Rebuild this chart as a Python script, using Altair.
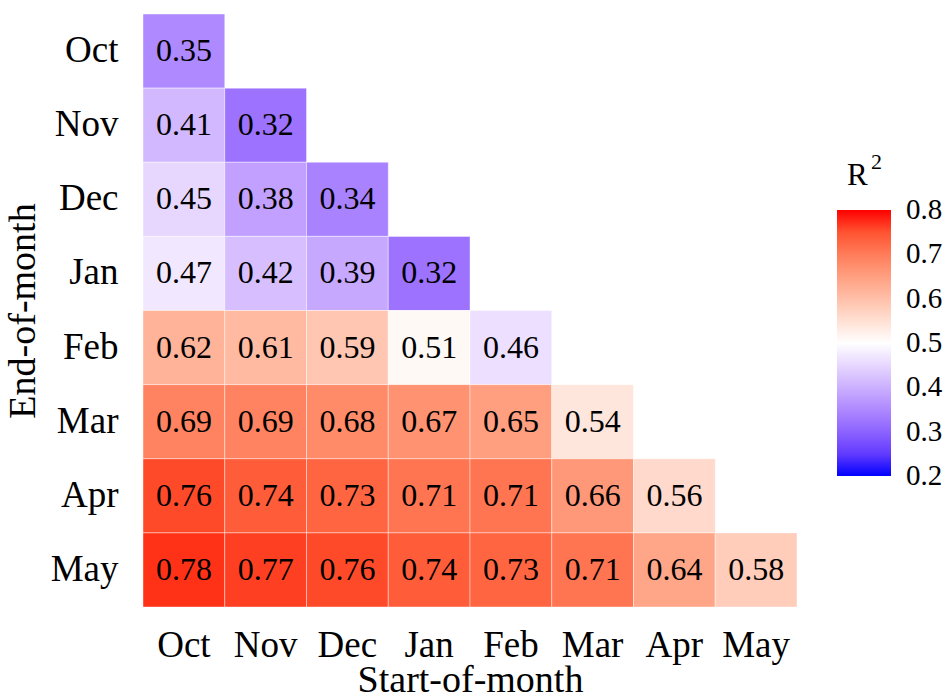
import altair as alt
import pandas as pd

months = ["Oct", "Nov", "Dec", "Jan", "Feb", "Mar", "Apr", "May"]

# R² for each end-of-month row, one value per start month (Oct onwards)
r2_oct = [0.35]
r2_nov = [0.41, 0.32]
r2_dec = [0.45, 0.38, 0.34]
r2_jan = [0.47, 0.42, 0.39, 0.32]
r2_feb = [0.62, 0.61, 0.59, 0.51, 0.46]
r2_mar = [0.69, 0.69, 0.68, 0.67, 0.65, 0.54]
r2_apr = [0.76, 0.74, 0.73, 0.71, 0.71, 0.66, 0.56]
r2_may = [0.78, 0.77, 0.76, 0.74, 0.73, 0.71, 0.64, 0.58]

legend_values = [0.2, 0.3, 0.4, 0.5, 0.6, 0.7, 0.8]

rows = [r2_oct, r2_nov, r2_dec, r2_jan, r2_feb, r2_mar, r2_apr, r2_may]
records = []
for end, vals in zip(months, rows):
    for start, v in zip(months, vals):
        records.append({"start": start, "end": end, "r2": v, "label": f"{v:.2f}"})
df = pd.DataFrame(records)

FONT = "Liberation Serif"

# colour domain padded by a hair so the 0.2 / 0.8 legend labels stay centred on their ticks
color_scale = alt.Scale(domain=[0.1999, 0.5, 0.8001],
                        range=["#0000ff", "#ffffff", "#ff0000"],
                        interpolate="lab")

base = alt.Chart(df)

tiles = base.mark_rect(stroke="white", strokeWidth=0.6, strokeOpacity=0.7).encode(
    x=alt.X("start:N", sort=months, title="Start-of-month",
            scale=alt.Scale(paddingInner=0, paddingOuter=0),
            axis=alt.Axis(labelAngle=0, domain=False, ticks=False, labelPadding=20,
                          labelFontSize=37, labelFont=FONT, labelColor="black",
                          titleFontSize=38, titleFont=FONT, titleFontWeight="normal",
                          titleColor="black", titlePadding=-2)),
    y=alt.Y("end:N", sort=months, title="End-of-month",
            scale=alt.Scale(paddingInner=0, paddingOuter=0),
            axis=alt.Axis(domain=False, ticks=False, labelPadding=25,
                          labelFontSize=37, labelFont=FONT, labelColor="black",
                          titleFontSize=38, titleFont=FONT, titleFontWeight="normal",
                          titleColor="black", titlePadding=8)),
    color=alt.Color("r2:Q", title=None, scale=color_scale,
                    legend=alt.Legend(orient="none", legendX=694, legendY=196,
                                      gradientLength=266, gradientThickness=54,
                                      gradientStrokeWidth=0,
                                      values=legend_values,
                                      format=".1f",
                                      labelFontSize=29, labelFont=FONT,
                                      labelColor="black", labelOffset=15,
                                      labelOverlap=False)),
)

labels = base.mark_text(font=FONT, fontSize=32, color="black").encode(
    x=alt.X("start:N", sort=months),
    y=alt.Y("end:N", sort=months),
    text="label:N",
)

# colour-bar title: R with a raised 2
title_r = alt.Chart(pd.DataFrame({"t": ["R"]})).mark_text(
    font=FONT, fontSize=31, color="black", align="left", baseline="alphabetic"
).encode(x=alt.value(704), y=alt.value(171), text="t:N")
title_sup = alt.Chart(pd.DataFrame({"t": ["2"]})).mark_text(
    font=FONT, fontSize=22, color="black", align="left", baseline="alphabetic"
).encode(x=alt.value(728), y=alt.value(155), text="t:N")

chart = (tiles + labels + title_r + title_sup).properties(
    width=654, height=593,
    autosize=alt.AutoSizeParams(type="none"),
    padding={"left": 143, "top": 14, "right": 152, "bottom": 86},
).configure_view(stroke=None)

chart.save("out.html", embed_options={"renderer": "svg", "actions": False})
